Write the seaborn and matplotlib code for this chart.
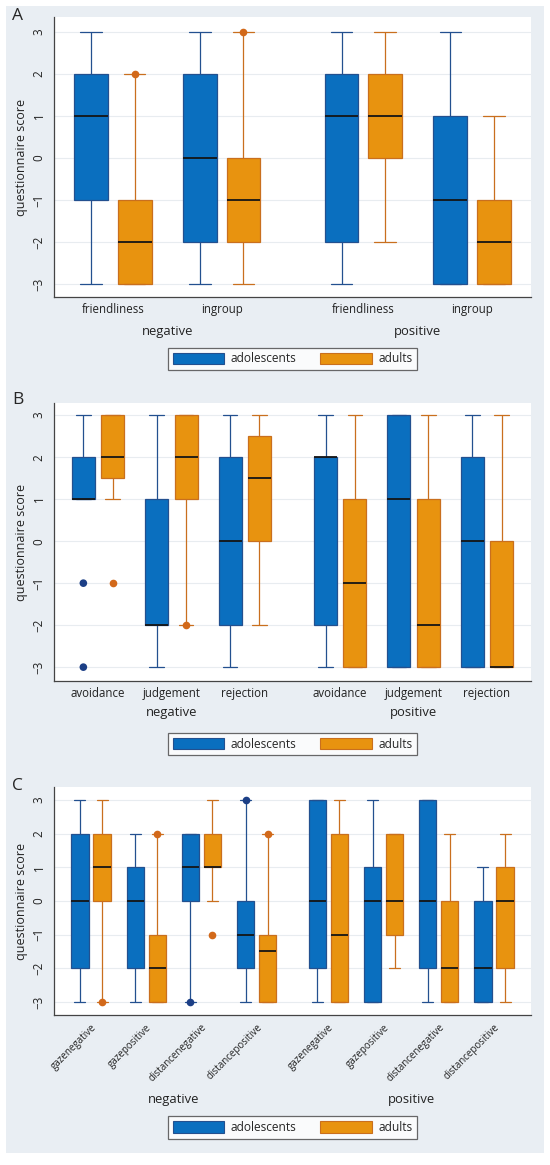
import numpy as np
import pandas as pd
import matplotlib.pyplot as plt
import seaborn as sns
from matplotlib.patches import Patch, Rectangle

sns.set_style("white")
plt.rcParams['font.family'] = ['Open Sans', 'DejaVu Sans']

groups = ['adolescents', 'adults']
valences = ['negative', 'positive']

# boxes are listed valence -> item -> group
# lo/hi = whisker ends, q1/med/q3 = box
# panel A
a_items = ['friendliness', 'ingroup']
a_lo = [-3, -3, -3, -3, -3, -2, -3, -3]
a_q1 = [-1, -3, -2, -2, -2, 0, -3, -3]
a_med = [1, -2, 0, -1, 1, 1, -1, -2]
a_q3 = [2, -1, 2, 0, 2, 2, 1, -1]
a_hi = [3, 2, 3, 3, 3, 3, 3, 1]
a_dots = [('negative', 'friendliness', 'adults', 2),
          ('negative', 'ingroup', 'adults', 3)]

# panel B
b_items = ['avoidance', 'judgement', 'rejection']
b_lo = [1, 1, -3, -2, -3, -2, -3, -3, -3, -3, -3, -3]
b_q1 = [1, 1.5, -2, 1, -2, 0, -2, -3, -3, -3, -3, -3]
b_med = [1, 2, -2, 2, 0, 1.5, 2, -1, 1, -2, 0, -3]
b_q3 = [2, 3, 1, 3, 2, 2.5, 2, 1, 3, 1, 2, 0]
b_hi = [3, 3, 3, 3, 3, 3, 3, 3, 3, 3, 3, 3]
b_dots = [('negative', 'avoidance', 'adolescents', -1),
          ('negative', 'avoidance', 'adolescents', -3),
          ('negative', 'avoidance', 'adults', -1),
          ('negative', 'judgement', 'adults', -2)]

# panel C
c_items = ['gazenegative', 'gazepositive', 'distancenegative', 'distancepositive']
c_lo = [-3, -3, -3, -3, -3, 0, -3, -3, -3, -3, -3, -2, -3, -3, -3, -3]
c_q1 = [-2, 0, -2, -3, 0, 1, -2, -3, -2, -3, -3, -1, -2, -3, -3, -2]
c_med = [0, 1, 0, -2, 1, 1, -1, -1.5, 0, -1, 0, 0, 0, -2, -2, 0]
c_q3 = [2, 2, 1, -1, 2, 2, 0, -1, 3, 2, 1, 2, 3, 0, 0, 1]
c_hi = [3, 3, 2, 2, 2, 3, 3, 2, 3, 3, 3, 2, 3, 2, 1, 2]
c_dots = [('negative', 'gazenegative', 'adults', -3),
          ('negative', 'gazepositive', 'adults', 2),
          ('negative', 'distancenegative', 'adolescents', -3),
          ('negative', 'distancenegative', 'adults', -1),
          ('negative', 'distancepositive', 'adolescents', 3),
          ('negative', 'distancepositive', 'adults', 2)]

fill_colors = {'adolescents': '#0a6fbf', 'adults': '#e8930f'}
line_colors = {'adolescents': '#23508f', 'adults': '#c96f1e'}
dot_colors = {'adolescents': '#1c3f86', 'adults': '#d2691a'}
bg = '#e9eef3'
group_gap = 0.3


def xpos(items, val, item):
    return valences.index(val) * (len(items) + group_gap) + items.index(item)


def box_table(items, lo, q1, med, q3, hi):
    rows = []
    k = 0
    for val in valences:
        for item in items:
            for grp in groups:
                for s in (lo[k], q1[k], med[k], q3[k], hi[k]):
                    rows.append({'pos': xpos(items, val, item), 'group': grp, 'score': s})
                k += 1
    return pd.DataFrame(rows)


def dot_table(items, dots):
    return pd.DataFrame([{'pos': xpos(items, v, it), 'group': g, 'score': s}
                         for v, it, g, s in dots])


W, H = 550, 1165
fig = plt.figure(figsize=(W / 100, H / 100), dpi=100)
fig.patches.append(Rectangle((6 / W, 1 - 1153 / H), 538 / W, 1147 / H,
                             transform=fig.transFigure, facecolor=bg,
                             edgecolor='none', zorder=-10))

panels = [
    # letter, items, data, dots, top, bottom, ylim, xpad, tick rot, group label offset, letter y, legend y
    ('A', a_items, (a_lo, a_q1, a_med, a_q3, a_hi), a_dots, 17, 297, (-3.31, 3.36), 0.54, 0, 24.5, 16, 359),
    ('B', b_items, (b_lo, b_q1, b_med, b_q3, b_hi), b_dots, 403, 681, (-3.33, 3.29), 0.6, 0, 23, 400, 744),
    ('C', c_items, (c_lo, c_q1, c_med, c_q3, c_hi), c_dots, 787, 1015, (-3.39, 3.39), 0.67, 45, 60.5, 786, 1127.5),
]

for letter, items, stats, dots, top, bottom, ylim, xpad, rot, goff, ly, legy in panels:
    ax = fig.add_axes([54 / W, 1 - bottom / H, 477 / W, (bottom - top) / H])
    ax.set_facecolor('white')
    df = box_table(items, *stats)
    for grp in groups:
        sns.boxplot(data=df[df['group'] == grp], x='pos', y='score', hue='group',
                    hue_order=groups, palette=fill_colors, native_scale=True,
                    dodge=True, width=0.8, gap=0.22, whis=(0, 100), saturation=1,
                    linecolor=line_colors[grp], linewidth=0.9, capwidths=0.2,
                    medianprops={'color': '#151515', 'linewidth': 1.3},
                    legend=False, ax=ax)
    sns.stripplot(data=dot_table(items, dots), x='pos', y='score', hue='group',
                  hue_order=groups, palette=dot_colors, native_scale=True,
                  dodge=True, jitter=False, size=5.5, linewidth=0,
                  legend=False, zorder=5, ax=ax)

    n = len(items)
    ticks = [xpos(items, v, it) for v in valences for it in items]
    ax.set_xlim(-xpad, ticks[-1] + xpad)
    ax.set_ylim(*ylim)
    ax.set_yticks(range(-3, 4))
    ax.set_yticklabels([f'{t}'.replace('-', '\u2212') for t in range(-3, 4)],
                       rotation=90, va='center')
    ax.tick_params(axis='y', length=4, width=0.8, color='#444444', labelsize=8.4,
                   pad=2, labelcolor='#222222')
    ax.set_xticks(ticks)
    if rot:
        ax.set_xticklabels(items * 2, rotation=45, ha='right', rotation_mode='anchor',
                           fontsize=7)
        ax.tick_params(axis='x', length=0, pad=5, labelcolor='#222222')
    else:
        ax.set_xticklabels(items * 2, fontsize=8.3)
        ax.tick_params(axis='x', length=0, pad=4, labelcolor='#222222')
    ax.grid(axis='y', color='#e8ecf0', linewidth=0.8)
    ax.set_axisbelow(True)
    ax.set_xlabel('')
    ax.set_ylabel('questionnaire score', fontsize=9, color='#222222', labelpad=3)
    for side in ['top', 'right']:
        ax.spines[side].set_visible(False)
    for side in ['left', 'bottom']:
        ax.spines[side].set_color('#444444')
        ax.spines[side].set_linewidth(0.9)

    for i, val in enumerate(valences):
        centre = (ticks[i * n] + ticks[i * n + n - 1]) / 2
        ax.annotate(val, xy=(centre, 0), xycoords=('data', 'axes fraction'),
                    xytext=(0, -goff), textcoords='offset points',
                    ha='center', va='center', fontsize=9.4, color='#222222')

    fig.text(17.5 / W, 1 - ly / H, letter, fontsize=12.5, ha='center', va='center')

    handles = [Patch(facecolor=fill_colors[g], edgecolor=line_colors[g], linewidth=0.8)
               for g in groups]
    leg = fig.legend(handles, groups, loc='center', bbox_to_anchor=(292.5 / W, 1 - legy / H),
                     ncol=2, fontsize=8.6, frameon=True, fancybox=False,
                     handlelength=4.3, handleheight=1.15, handletextpad=0.55,
                     columnspacing=2.0, borderpad=0.4)
    leg.get_frame().set_edgecolor('#444444')
    leg.get_frame().set_linewidth(0.9)

fig.savefig('out.png', dpi=100)
